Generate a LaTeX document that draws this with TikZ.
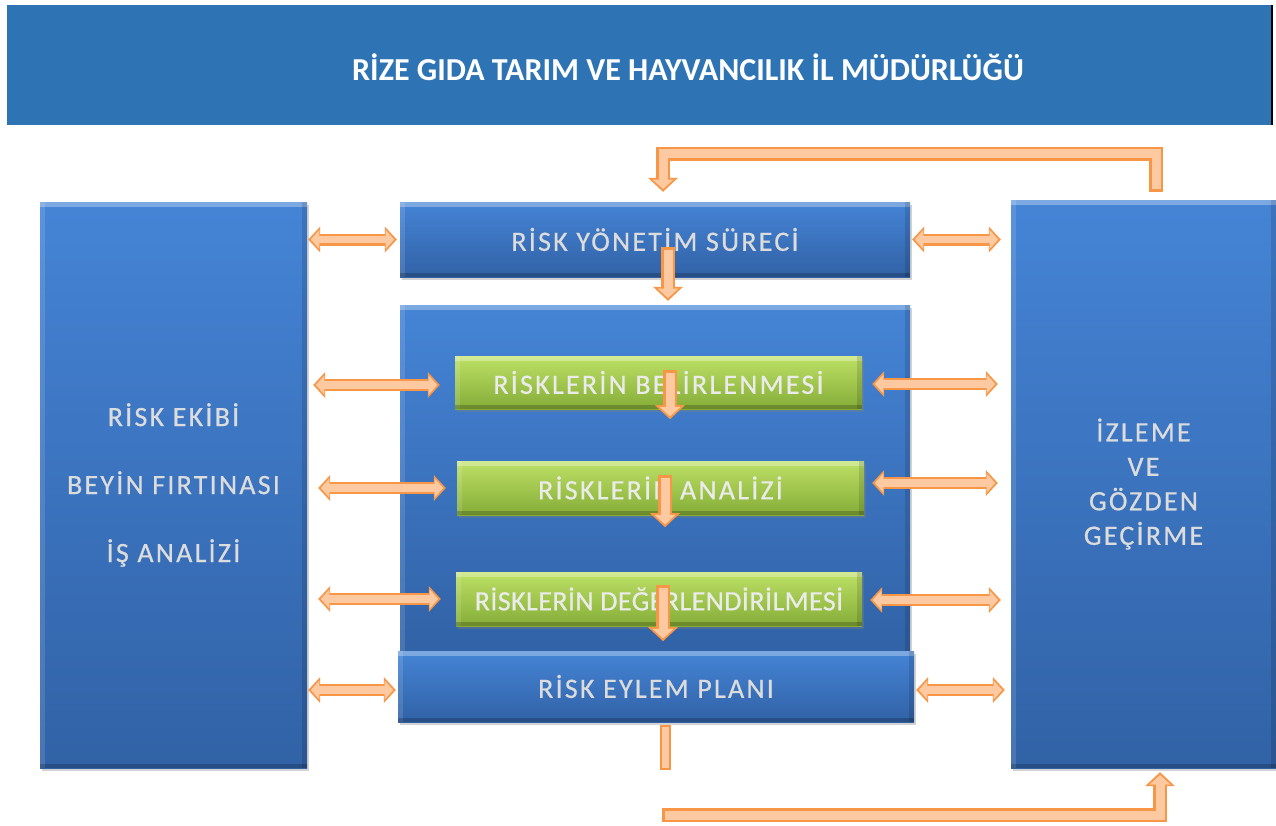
\documentclass[tikz,border=0pt]{standalone}
\usepackage{fontspec}
\setmainfont{Carlito}
\newfontfamily\kutufont[LetterSpace=8, FakeBold=0.6]{Carlito}
\newfontfamily\kutufontdar[LetterSpace=1.5, FakeBold=0.6]{Carlito}
\usetikzlibrary{arrows.meta}
\usetikzlibrary{shadows}
\definecolor{baslikmavi}{HTML}{2E74B5}
\definecolor{maviust}{HTML}{4584D6}
\definecolor{mavialt}{HTML}{3162A6}
\definecolor{yesilust}{HTML}{BEE166}
\definecolor{yesilalt}{HTML}{84AC37}
\definecolor{okkoyu}{HTML}{F79646}
\definecolor{okacik}{HTML}{FDC9A0}
\definecolor{yazigri}{HTML}{DCDCDC}
\tikzset{
	bevel/.style = {path picture={
		\fill[white, opacity=.3] (path picture bounding box.north west) rectangle ([yshift=-5pt]path picture bounding box.north east);
		\fill[white, opacity=.12] (path picture bounding box.north west) rectangle ([xshift=5pt]path picture bounding box.south west);
		\fill[black, opacity=.2] (path picture bounding box.south west) rectangle ([yshift=4pt]path picture bounding box.south east);
		\fill[black, opacity=.12] ([xshift=-5pt]path picture bounding box.north east) rectangle (path picture bounding box.south east);}},
	kutu/.style = {rectangle, inner sep=0pt, align=center, text=yazigri,
		font=\kutufont\fontsize{28}{33}\selectfont, bevel,
		drop shadow={shadow xshift=2pt, shadow yshift=-3pt, opacity=.35}},
	kutu_m/.style = {kutu, top color=maviust, bottom color=mavialt},% kutu, mavi
	kutu_y/.style = {kutu, top color=yesilust, bottom color=yesilalt,
		text=white!92!black},% kutu, yesil
	ok_tek/.style = {line cap=rect, line join=miter,
		preaction={draw=okkoyu, line width=14pt, line cap=rect, shorten >=0pt,
			-{Triangle[length=14pt,width=30pt,line width=0pt]}},
		draw=okacik, line width=9pt, shorten >=2.8pt,
		-{Triangle[length=9.5pt,width=21pt,line width=0pt]}},% blok ok, tek uclu
	ok_cift/.style = {line cap=rect, line join=miter,
		preaction={draw=okkoyu, line width=12pt, line cap=rect, shorten >=0pt, shorten <=0pt,
			{Triangle[length=12pt,width=26pt,line width=0pt]}-{Triangle[length=12pt,width=26pt,line width=0pt]}},
		draw=okacik, line width=7.5pt, shorten >=2.6pt, shorten <=2.6pt,
		{Triangle[length=8.5pt,width=19pt,line width=0pt]}-{Triangle[length=8.5pt,width=19pt,line width=0pt]}},% blok ok, cift uclu
	ok_govde/.style = {line cap=rect, preaction={draw=okkoyu, line width=11pt, line cap=rect},
		draw=okacik, line width=7pt}% blok ok, ucsuz
}

\begin{document}
\begin{tikzpicture}[x=1pt, y=-1pt]
	\fill[white] (0,0) rectangle (1276,825);
	\useasboundingbox (0,0) rectangle (1276,825);
	% baslik
	\node[fill=baslikmavi, minimum width=1265pt, minimum height=120pt] (baslik) at (639.5,65) {};
	\draw[black, line width=1.5pt] (baslik.north east) -- (baslik.south east);
	\node[text=white, font=\bfseries\fontsize{32}{38}\selectfont] (bas) at (688,67)
		{RİZE GIDA TARIM VE HAYVANCILIK İL MÜDÜRLÜĞÜ};
	% kutular
	\node[kutu_m, minimum width=267pt, minimum height=566pt,
		font=\kutufont\fontsize{28}{68}\selectfont] (sol) at (173.5,485)
		{RİSK EKİBİ\\BEYİN FIRTINASI\\İŞ ANALİZİ};
	\node[kutu_m, minimum width=265pt, minimum height=568pt,
		font=\kutufont\fontsize{28}{34.5}\selectfont] (izl) at (1143.5,484)
		{İZLEME\\VE\\GÖZDEN\\GEÇİRME};
	\node[kutu_m, minimum width=510pt, minimum height=75pt] (rys) at (655,239.5) {RİSK YÖNETİM SÜRECİ};
	\node[kutu_m, minimum width=510pt, minimum height=350pt] (orta) at (655,480) {};
	\node[kutu_y, minimum width=407pt, minimum height=53pt] (yb1) at (658.5,382.5) {RİSKLERİN BELİRLENMESİ};
	\node[kutu_y, minimum width=407pt, minimum height=54pt] (yb2) at (660.5,488) {RİSKLERİN ANALİZİ};
	\node[kutu_y, minimum width=406pt, minimum height=54pt,
		font=\kutufontdar\fontsize{28}{33}\selectfont] (yb3) at (659,599) {RİSKLERİN DEĞERLENDİRİLMESİ};
	\node[kutu_m, minimum width=516pt, minimum height=71pt] (eyl) at (656,686.5) {RİSK EYLEM PLANI};
	% oklar, sol
	\draw[ok_cift] ([xshift=1pt]sol.east |- rys) -- ([xshift=-3pt]rys.west);
	\draw[ok_cift] ([xshift=6pt,yshift=-2.5pt]sol.east |- yb1) -- ([xshift=-15pt,yshift=-2.5pt]yb1.west);
	\draw[ok_cift] ([xshift=11pt]sol.east |- yb2) -- ([xshift=-11pt]yb2.west);
	\draw[ok_cift] ([xshift=11pt]sol.east |- yb3) -- ([xshift=-15pt]yb3.west);
	\draw[ok_cift] ([xshift=1pt,yshift=-3.5pt]sol.east |- eyl) -- ([xshift=-2pt,yshift=-3.5pt]eyl.west);
	% oklar, sag
	\draw[ok_cift] ([xshift=2pt]rys.east) -- ([xshift=-10pt]izl.west |- rys);
	\draw[ok_cift] ([xshift=10pt,yshift=-1.5pt]yb1.east) -- ([xshift=-13pt,yshift=-1.5pt]izl.west |- yb1);
	\draw[ok_cift] ([xshift=8pt,yshift=5pt]yb2.east) -- ([xshift=-13pt,yshift=5pt]izl.west |- yb2);
	\draw[ok_cift] ([xshift=8pt,yshift=-1pt]yb3.east) -- ([xshift=-10pt,yshift=-1pt]izl.west |- yb3);
	\draw[ok_cift] ([xshift=2pt,yshift=-3.5pt]eyl.east) -- ([xshift=-6pt,yshift=-3.5pt]izl.west |- eyl);
	% oklar, asagi
	\draw[ok_tek] ([xshift=13pt,yshift=-14.5pt]rys.center) -- ([xshift=13pt,yshift=4pt]orta.north);
	\draw[ok_tek] ([xshift=11.5pt,yshift=5.5pt]yb1.center) -- ([xshift=11.5pt,yshift=-10pt]yb1.south);
	\draw[ok_tek] ([xshift=4.5pt,yshift=6pt]yb2.center) -- ([xshift=4.5pt,yshift=-12pt]yb2.south);
	\draw[ok_tek] ([xshift=4pt,yshift=7pt]yb3.center) -- ([xshift=4pt,yshift=-15pt]yb3.south);
	\draw[ok_govde] ([xshift=9.5pt,yshift=-8.5pt]eyl.south) -- ([xshift=9.5pt,yshift=-42.5pt]eyl.south);
	% geri besleme
	\draw[ok_tek] ([xshift=12.5pt,yshift=15pt]izl.north) -- ++(0,-31) -| ([xshift=8pt,yshift=10pt]rys.north);
	\draw[ok_tek] ([xshift=13pt,yshift=-93pt]eyl.south) -| ([xshift=16.5pt,yshift=-4pt]izl.south);
\end{tikzpicture}
\end{document}
